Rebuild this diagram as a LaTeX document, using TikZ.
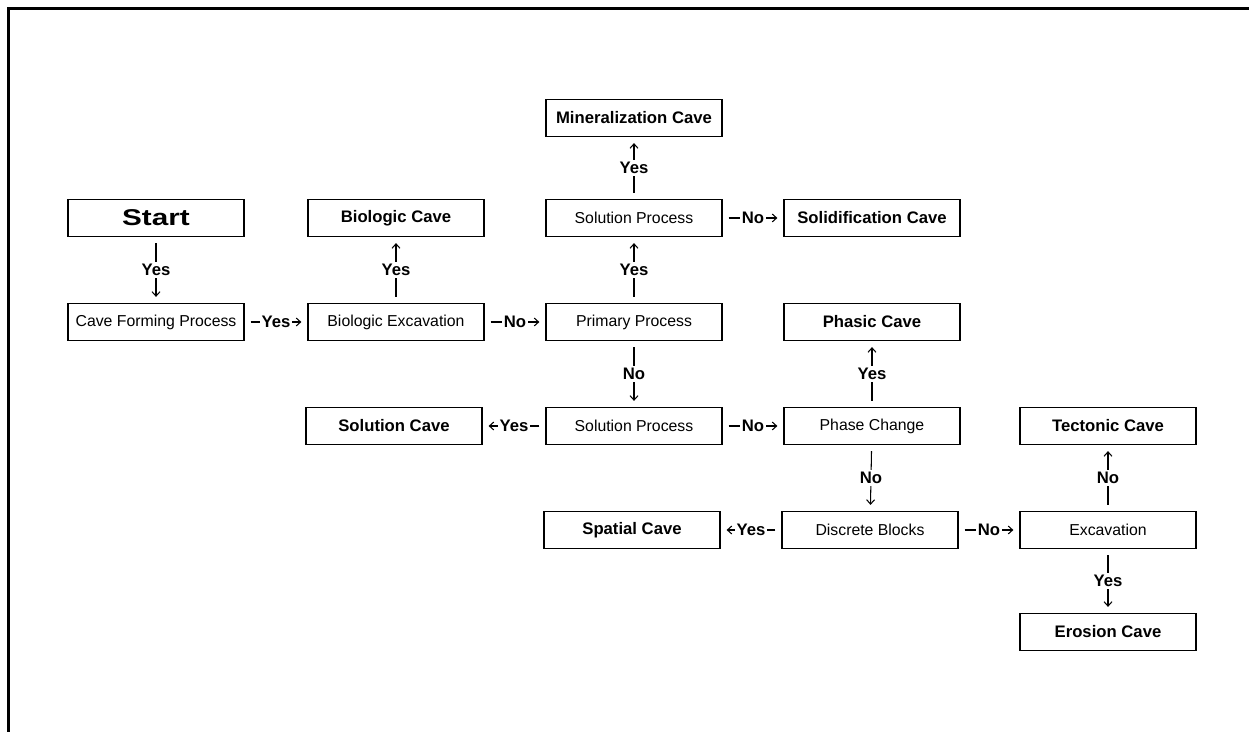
\documentclass[tikz,border=0pt]{standalone}
\usepackage{fontspec}
\setmainfont{Liberation Sans}
\usetikzlibrary{arrows.meta}
\tikzset{
  procbox/.style={draw,line width=0.7pt,minimum width=3.52cm,minimum height=0.74cm,inner sep=0pt,font=\fontsize{9}{11}\selectfont},
  cavebox/.style={procbox,font=\fontsize{9.5}{11}\selectfont\bfseries},
  lbl/.style={fill=white,inner sep=1pt,font=\fontsize{9.5}{11}\selectfont\bfseries},
  link/.style={line width=0.6pt,-{Straight Barb[length=2.5pt,width=4.5pt]},shorten <=0.12cm,shorten >=0.12cm}
}
\begin{document}
\begin{tikzpicture}[x=0.02cm,y=-0.02cm]
\useasboundingbox (0,0) rectangle (1249,732);
\draw[line width=1.7pt] (8.5,732) -- (8.5,8.5) -- (1249,8.5);
\node[cavebox] (start) at (156,218) {\scalebox{1.3}[1]{\fontsize{13}{15}\selectfont\bfseries Start}};
\node[procbox] (cfp) at (156,322) {Cave Forming Process};
\node[cavebox] (biocave) at (396,218) {Biologic Cave};
\node[procbox] (bioexc) at (396,322) {Biologic Excavation};
\node[cavebox] (mincave) at (634,118) {Mineralization Cave};
\node[procbox] (solproca) at (634,218) {Solution Process};
\node[cavebox] (solidcave) at (872,218) {Solidification Cave};
\node[procbox] (primary) at (634,322) {Primary Process};
\node[cavebox] (phasic) at (872,322) {Phasic Cave};
\node[cavebox] (solcave) at (394,426) {Solution Cave};
\node[procbox] (solprocb) at (634,426) {Solution Process};
\node[procbox] (phase) at (872,426) {Phase Change};
\node[cavebox] (tectonic) at (1108,426) {Tectonic Cave};
\node[cavebox] (spatial) at (632,530) {Spatial Cave};
\node[procbox] (discrete) at (870,530) {Discrete Blocks};
\node[procbox] (excav) at (1108,530) {Excavation};
\node[cavebox] (erosion) at (1108,632) {Erosion Cave};
\draw[link] (start) -- node[lbl] {Yes} (cfp);
\draw[link] (cfp) -- node[lbl] {Yes} (bioexc);
\draw[link] (bioexc) -- node[lbl] {Yes} (biocave);
\draw[link] (bioexc) -- node[lbl] {No} (primary);
\draw[link] (primary) -- node[lbl] {Yes} (solproca);
\draw[link] (solproca) -- node[lbl] {Yes} (mincave);
\draw[link] (solproca) -- node[lbl] {No} (solidcave);
\draw[link] (primary) -- node[lbl] {No} (solprocb);
\draw[link] (solprocb) -- node[lbl] {Yes} (solcave);
\draw[link] (solprocb) -- node[lbl] {No} (phase);
\draw[link] (phase) -- node[lbl] {Yes} (phasic);
\draw[link] (phase) -- node[lbl] {No} (discrete);
\draw[link] (discrete) -- node[lbl] {Yes} (spatial);
\draw[link] (discrete) -- node[lbl] {No} (excav);
\draw[link] (excav) -- node[lbl] {No} (tectonic);
\draw[link] (excav) -- node[lbl] {Yes} (erosion);
\end{tikzpicture}
\end{document}
